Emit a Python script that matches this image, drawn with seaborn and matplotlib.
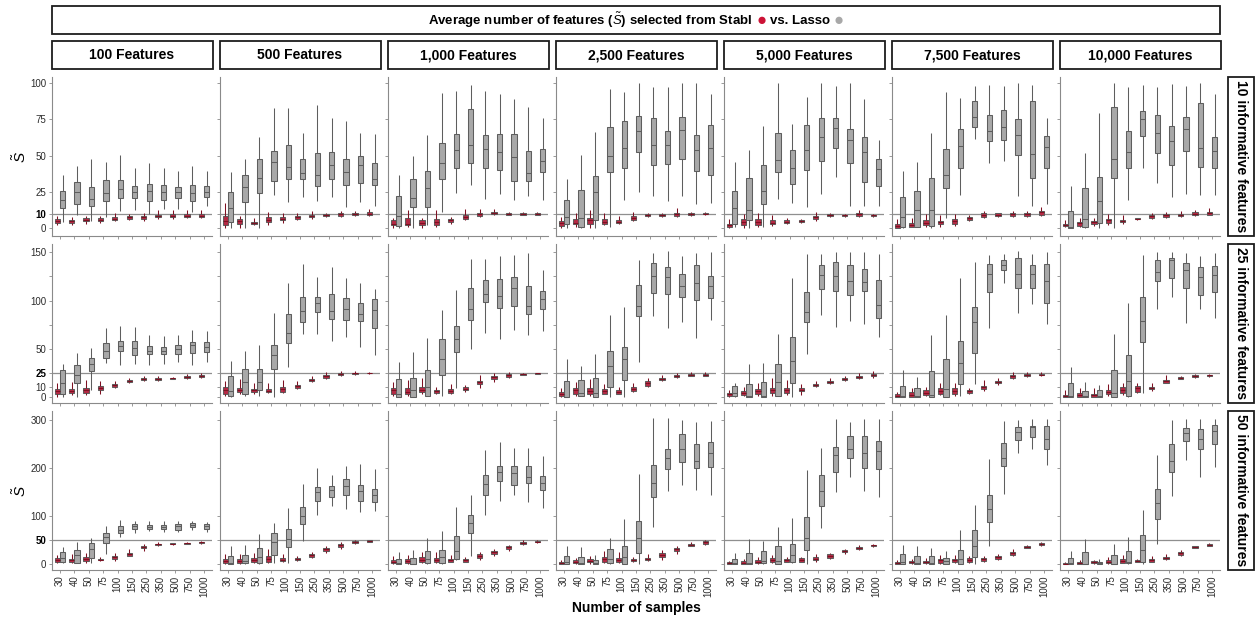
import matplotlib
matplotlib.use("Agg")
import matplotlib.pyplot as plt
from matplotlib.colors import to_rgb
from matplotlib.patches import Rectangle
import numpy as np
import pandas as pd
import seaborn as sns

# ---------------------------------------------------------------------------
# Categories
# ---------------------------------------------------------------------------
sample_sizes = ["30", "40", "50", "75", "100", "150", "250", "350", "500", "750", "1000"]
feature_counts = [100, 500, 1000, 2500, 5000, 7500, 10000]
feature_labels = ["100 Features", "500 Features", "1,000 Features", "2,500 Features",
                  "5,000 Features", "7,500 Features", "10,000 Features"]
informative_counts = [10, 25, 50]
informative_labels = ["10 informative features", "25 informative features",
                      "50 informative features"]
methods = ["Stabl", "Lasso"]

# Box summaries per sample size: [lower whisker, Q1, median, Q3, upper whisker]
# ---- 10 informative features ---------------------------------------------
stabl_10_f100 = [[2.1, 3.4, 4.8, 6.2, 8.5], [2.0, 3.9, 4.8, 5.7, 8.0], [3.0, 4.8, 5.7, 6.9, 8.7],
                 [3.9, 4.8, 5.7, 6.9, 8.7], [4.8, 5.5, 6.7, 7.8, 10.3], [5.7, 6.4, 7.6, 8.5, 9.9],
                 [4.8, 6.7, 7.8, 8.7, 10.3], [6.7, 7.6, 8.5, 9.4, 12.6], [6.7, 7.6, 8.7, 9.6, 12.6],
                 [6.9, 7.6, 8.7, 9.6, 12.6], [7.4, 7.8, 8.7, 9.6, 12.6]]
lasso_10_f100 = [[4.6, 13.8, 19.3, 25.7, 36.7], [9.2, 17.0, 25.2, 31.9, 42.9], [5.3, 15.6, 20.0, 28.4, 47.7],
                 [7.6, 18.8, 24.3, 33.0, 45.6], [11.7, 20.6, 26.8, 33.3, 50.7], [12.6, 20.6, 25.0, 29.1, 41.7],
                 [10.1, 18.8, 25.7, 30.5, 44.7], [13.5, 19.7, 25.0, 29.8, 41.5], [13.1, 20.6, 25.0, 28.7, 39.2],
                 [11.2, 18.8, 24.5, 29.6, 42.7], [15.6, 21.6, 25.0, 29.1, 39.4]]
stabl_10_f500 = [[0, 2.3, 5.0, 8.7, 17.2], [0, 2.8, 4.8, 6.2, 8.5], [2.0, 2.8, 3.7, 4.6, 6.9],
                 [2.0, 4.6, 5.7, 8.0, 11.2], [3.9, 5.5, 6.7, 7.8, 10.3], [5.7, 6.7, 7.8, 8.7, 10.3],
                 [6.7, 7.6, 8.7, 9.4, 12.2], [8.0, 8.5, 8.9, 9.6, 10.3], [7.8, 8.7, 9.6, 10.3, 12.2],
                 [8.2, 8.9, 9.9, 10.6, 12.0], [8.5, 9.2, 10.1, 11.0, 13.3]]
lasso_10_f500 = [[0, 4.1, 13.8, 24.8, 38.5], [0, 17.9, 28.2, 36.7, 47.5], [0.5, 24.5, 34.9, 47.7, 63.0],
                 [22.7, 32.8, 45.4, 53.2, 83.0], [17.9, 33.7, 42.0, 57.3, 83.0], [21.8, 33.7, 37.8, 47.5, 65.8],
                 [18.8, 29.4, 36.9, 51.6, 84.9], [21.8, 33.7, 43.6, 52.5, 75.9], [14.9, 29.6, 38.8, 47.7, 73.9],
                 [17.9, 31.0, 43.6, 49.8, 65.8], [15.6, 29.6, 33.7, 44.7, 64.9]]
stabl_10_f1000 = [[0, 2.3, 3.2, 6.0, 6.9], [1.1, 2.3, 3.2, 7.1, 12.6], [0, 2.3, 3.7, 5.5, 6.9],
                  [1.1, 2.5, 4.6, 6.4, 12.6], [3.0, 4.4, 5.5, 6.4, 8.0], [5.7, 6.4, 8.0, 9.4, 13.5],
                  [8.0, 8.5, 9.9, 10.6, 13.5], [8.9, 9.6, 10.8, 11.2, 13.3], [8.9, 9.4, 9.9, 10.3, 11.5],
                  [8.9, 9.4, 9.9, 10.3, 11.2], [8.9, 9.4, 10.1, 10.8, 11.5]]
lasso_10_f1000 = [[0, 1.4, 8.3, 22.5, 36.7], [0, 14.4, 20.9, 33.7, 49.8], [2.3, 14.4, 27.8, 39.7, 64.0],
                  [11.5, 33.7, 44.7, 58.7, 93.0], [24.5, 41.5, 53.9, 65.1, 94.3], [29.8, 44.7, 57.1, 82.1, 98.4],
                  [20.0, 41.5, 54.6, 64.0, 94.3], [23.6, 39.9, 52.5, 65.1, 92.4], [19.5, 32.8, 48.9, 65.1, 89.2],
                  [22.5, 32.8, 38.3, 53.2, 83.3], [19.5, 39.0, 46.1, 54.4, 75.9]]
stabl_10_f2500 = [[0, 1.6, 3.4, 5.0, 8.0], [1.1, 2.8, 3.7, 6.7, 10.3], [0, 2.8, 5.5, 7.3, 12.6],
                  [2.1, 3.0, 4.6, 6.2, 10.3], [3.0, 3.7, 4.6, 5.5, 8.5], [5.0, 5.7, 7.3, 8.5, 11.5],
                  [8.0, 8.5, 9.2, 10.1, 10.3], [8.0, 8.7, 9.4, 9.9, 10.3], [8.0, 8.7, 9.9, 10.8, 13.8],
                  [8.7, 9.4, 10.1, 10.8, 11.5], [9.2, 9.6, 10.1, 10.8, 11.2]]
lasso_10_f2500 = [[0, 2.8, 7.8, 19.5, 33.7], [0, 1.1, 7.1, 26.4, 50.5], [0, 5.5, 24.8, 35.8, 66.3],
                  [0.9, 38.8, 49.5, 69.5, 95.9], [19.7, 41.7, 55.0, 73.9, 93.8], [24.8, 52.3, 67.0, 77.1, 99.8],
                  [22.5, 43.3, 57.1, 75.7, 97.0], [18.6, 44.0, 57.1, 66.7, 97.0], [22.5, 47.5, 67.4, 76.4, 99.8],
                  [16.7, 39.7, 53.9, 64.0, 99.8], [17.7, 36.7, 55.0, 70.9, 92.2]]
stabl_10_f5000 = [[0, 0.7, 2.1, 3.2, 6.7], [0, 2.5, 4.4, 6.2, 9.9], [0.7, 2.5, 4.4, 6.2, 10.3],
                  [1.6, 2.8, 3.9, 5.5, 8.9], [3.0, 3.4, 4.4, 5.5, 7.3], [3.9, 4.4, 5.3, 5.7, 6.7],
                  [5.3, 6.7, 7.8, 8.7, 11.5], [7.8, 8.2, 8.9, 9.6, 10.3], [8.0, 8.5, 8.9, 9.4, 9.9],
                  [8.0, 8.7, 9.6, 10.3, 12.6], [8.0, 8.5, 8.9, 9.4, 10.1]]
lasso_10_f5000 = [[0.7, 2.8, 14.2, 25.5, 45.6], [0, 5.5, 12.4, 34.4, 53.7], [0.7, 16.5, 25.5, 43.3, 70.6],
                  [20.4, 38.5, 47.2, 65.6, 99.8], [17.7, 30.7, 41.5, 53.7, 71.8], [14.4, 40.4, 53.7, 70.9, 90.6],
                  [23.4, 46.1, 62.6, 75.7, 99.8], [35.6, 55.3, 69.3, 75.7, 97.7], [15.4, 45.2, 60.6, 68.6, 99.8],
                  [15.4, 32.1, 52.3, 62.6, 88.8], [15.4, 29.4, 40.6, 47.7, 60.6]]
stabl_10_f7500 = [[0, 0, 1.4, 2.8, 6.2], [0.7, 1.1, 2.3, 3.7, 7.3], [0.7, 2.1, 3.9, 5.7, 9.6],
                  [1.1, 2.8, 4.1, 5.3, 8.9], [1.6, 2.8, 4.8, 6.7, 9.9], [4.8, 5.7, 6.9, 7.8, 9.4],
                  [7.1, 7.6, 9.4, 10.8, 11.7], [8.0, 8.7, 9.4, 10.3, 10.8], [8.0, 8.7, 10.1, 10.8, 12.2],
                  [8.0, 8.7, 10.1, 10.8, 12.0], [8.7, 9.2, 11.0, 11.9, 14.9]]
lasso_10_f7500 = [[0.2, 0.7, 7.8, 21.6, 39.7], [0.7, 1.1, 12.4, 25.7, 45.6], [0.5, 1.6, 12.8, 34.4, 65.8],
                  [6.9, 27.8, 36.7, 54.6, 93.6], [22.7, 41.3, 56.7, 68.1, 89.4], [61.7, 69.5, 76.8, 87.4, 97.7],
                  [44.7, 59.9, 66.7, 78.0, 98.6], [46.6, 60.6, 69.7, 81.4, 97.7], [22.5, 50.2, 64.2, 75.2, 99.8],
                  [15.6, 34.9, 50.9, 87.8, 98.6], [16.7, 41.3, 55.7, 63.3, 75.7]]
stabl_10_f10000 = [[0.9, 1.4, 2.3, 3.0, 5.5], [1.1, 1.8, 3.4, 4.6, 7.1], [1.6, 2.8, 4.1, 5.0, 7.3],
                   [2.3, 3.4, 5.5, 6.7, 9.9], [3.2, 4.1, 5.0, 6.0, 8.9], [5.7, 6.2, 6.7, 6.9, 7.3],
                   [6.7, 7.3, 8.3, 9.2, 10.8], [7.3, 8.0, 9.2, 10.1, 11.5], [7.6, 8.3, 9.2, 10.1, 11.9],
                   [8.7, 9.2, 10.1, 11.0, 12.6], [9.0, 9.4, 10.3, 11.5, 13.8]]
lasso_10_f10000 = [[0, 0, 1.1, 12.2, 29.1], [0, 1.1, 6.7, 27.5, 52.0], [0, 3.4, 18.6, 35.6, 79.6],
                   [0, 34.4, 47.5, 83.3, 100.0], [19.5, 41.7, 52.3, 66.7, 97.0], [41.3, 63.8, 75.2, 80.5, 98.6],
                   [31.0, 52.0, 65.4, 78.2, 97.5], [21.3, 43.3, 60.3, 70.2, 99.3], [23.6, 53.4, 68.3, 76.4, 98.2],
                   [23.2, 42.0, 55.0, 86.0, 100.0], [22.9, 41.3, 53.0, 62.6, 92.7]]

# ---- 25 informative features ---------------------------------------------
stabl_25_f100 = [[0, 2.8, 5.9, 8.3, 14.2], [1.7, 3.8, 6.2, 8.6, 15.6], [1.7, 3.8, 6.9, 9.0, 17.6],
                 [3.1, 7.6, 9.3, 11.4, 16.9], [9.0, 10.7, 12.1, 13.8, 16.9], [14.9, 15.6, 16.6, 17.6, 20.0],
                 [17.0, 17.6, 18.7, 19.4, 21.8], [17.0, 18.0, 18.7, 19.4, 21.8], [18.3, 18.7, 19.4, 19.7, 21.1],
                 [19.0, 19.7, 20.7, 21.4, 23.5], [19.7, 20.4, 21.8, 22.8, 24.9]]
lasso_25_f100 = [[0, 2.8, 14.2, 27.7, 33.9], [0, 14.9, 22.5, 32.8, 46.0], [7.3, 26.6, 33.9, 40.8, 50.5],
                 [34.9, 40.8, 47.4, 55.7, 71.2], [32.8, 47.4, 52.9, 58.1, 73.3], [33.9, 43.2, 50.5, 57.7, 72.2],
                 [33.2, 44.2, 47.4, 52.5, 63.9], [34.6, 44.2, 48.0, 51.8, 62.9], [35.9, 44.9, 49.4, 53.6, 64.3],
                 [32.8, 46.0, 53.9, 56.7, 69.8], [36.6, 47.0, 52.2, 57.4, 68.8]]
stabl_25_f500 = [[0.7, 3.1, 6.9, 10.0, 16.9], [2.8, 4.8, 7.3, 9.0, 18.3], [2.8, 4.8, 6.9, 8.3, 14.2],
                 [3.8, 4.8, 6.6, 8.3, 14.5], [4.1, 5.5, 8.0, 10.7, 17.6], [8.6, 9.3, 11.4, 12.8, 16.9],
                 [15.6, 16.2, 18.0, 19.0, 21.8], [19.0, 20.0, 21.4, 22.8, 26.3], [21.8, 22.5, 23.5, 24.5, 27.0],
                 [23.2, 23.9, 24.5, 25.2, 27.0], [24.2, 24.5, 24.9, 25.2, 25.9]]
lasso_25_f500 = [[0, 0.7, 5.9, 21.8, 37.3], [0.7, 2.8, 15.2, 28.7, 48.0], [1.0, 6.9, 15.6, 28.7, 53.9],
                 [0, 28.7, 43.9, 54.3, 87.5], [31.1, 55.7, 66.0, 86.4, 118.0], [65.7, 77.4, 88.8, 103.4, 138.0],
                 [65.7, 87.8, 97.8, 103.7, 124.0], [58.4, 81.2, 88.8, 106.5, 134.5], [61.9, 80.2, 90.9, 102.3, 123.4],
                 [52.2, 78.5, 86.1, 97.1, 118.6], [43.6, 71.9, 89.9, 101.3, 112.3]]
stabl_25_f1000 = [[0.7, 2.8, 6.9, 9.0, 15.9], [1.0, 2.8, 5.5, 9.0, 17.3], [3.5, 4.8, 7.3, 10.7, 20.0],
                  [2.8, 4.1, 5.9, 7.3, 10.7], [2.8, 4.5, 6.2, 8.0, 13.8], [4.8, 7.3, 8.6, 10.0, 12.4],
                  [9.0, 13.5, 15.2, 16.9, 22.5], [15.2, 19.0, 20.4, 21.8, 25.2], [19.4, 21.1, 22.5, 23.9, 26.3],
                  [22.5, 22.8, 23.5, 24.2, 24.9], [23.9, 24.2, 24.5, 24.9, 25.2]]
lasso_25_f1000 = [[0, 0, 2.8, 18.7, 35.9], [0, 0, 6.9, 20.0, 47.0], [0.7, 0.7, 10.0, 27.7, 60.8],
                  [0.7, 22.5, 39.1, 60.5, 90.2], [9.7, 46.3, 60.5, 73.3, 111.3], [49.4, 79.5, 91.3, 112.7, 142.8],
                  [66.7, 98.2, 106.8, 121.0, 142.8], [60.5, 92.6, 104.4, 122.4, 146.6], [69.5, 94.4, 113.0, 124.4, 147.6],
                  [64.6, 86.4, 94.7, 114.8, 149.7], [68.4, 91.6, 101.3, 109.6, 131.7]]
stabl_25_f2500 = [[0, 0.7, 2.8, 5.5, 9.0], [1.4, 3.5, 6.9, 9.7, 15.2], [1.4, 3.5, 6.2, 9.0, 18.7],
                  [2.8, 3.5, 6.2, 8.3, 13.1], [2.8, 3.1, 5.5, 7.3, 10.7], [5.5, 6.2, 8.3, 10.7, 14.2],
                  [10.4, 11.4, 14.2, 16.6, 20.0], [16.9, 18.0, 19.0, 20.0, 22.8], [20.0, 20.7, 21.8, 22.8, 24.9],
                  [21.8, 22.1, 23.2, 24.2, 26.3], [21.8, 22.1, 23.2, 24.2, 25.6]]
lasso_25_f2500 = [[0, 0, 0.3, 16.2, 39.4], [0.7, 0.7, 3.8, 17.3, 32.1], [0, 0, 3.8, 19.7, 44.9],
                  [0.3, 10.0, 32.5, 48.0, 85.0], [0.3, 17.3, 39.1, 51.8, 93.7], [36.6, 83.6, 94.4, 115.8, 142.4],
                  [83.6, 107.5, 125.1, 138.6, 149.3], [71.9, 106.5, 124.1, 134.8, 151.0], [78.1, 103.4, 114.8, 127.2, 145.9],
                  [60.8, 100.2, 117.9, 136.9, 149.0], [79.8, 102.3, 114.8, 125.1, 150.0]]
stabl_25_f5000 = [[0, 0.7, 2.8, 4.1, 7.6], [0.7, 1.7, 4.5, 6.6, 10.7], [1.4, 3.1, 6.2, 8.3, 14.5],
                  [1.4, 3.8, 7.3, 9.7, 19.4], [2.1, 3.8, 7.3, 9.7, 17.3], [2.1, 6.2, 7.6, 9.0, 13.1],
                  [10.7, 11.8, 12.8, 13.8, 16.6], [13.8, 14.9, 15.9, 16.9, 19.4], [16.6, 17.3, 18.7, 19.7, 21.8],
                  [18.7, 19.4, 20.7, 21.8, 24.9], [20.0, 21.4, 22.8, 23.9, 26.6]]
lasso_25_f5000 = [[0, 0.7, 3.8, 11.4, 14.9], [0, 0, 0.7, 13.8, 33.9], [0, 0, 0.7, 15.6, 35.6],
                  [0.7, 1.4, 15.9, 33.9, 65.3], [0, 14.9, 37.0, 62.6, 123.7], [44.2, 77.4, 88.1, 109.2, 148.6],
                  [85.4, 112.3, 126.2, 136.5, 148.6], [72.2, 109.6, 125.8, 139.6, 150.0], [79.2, 106.1, 120.3, 136.5, 150.0],
                  [76.0, 109.9, 119.3, 132.7, 150.0], [62.6, 81.9, 95.1, 121.0, 148.6]]
stabl_25_f7500 = [[0, 0, 0.7, 2.8, 5.5], [0, 0, 1.7, 4.8, 9.0], [1.4, 2.1, 4.1, 6.9, 10.7],
                  [2.1, 3.5, 6.2, 9.0, 14.2], [1.4, 3.5, 6.2, 9.0, 14.5], [2.8, 4.1, 5.9, 7.3, 9.7],
                  [6.2, 8.3, 10.4, 11.8, 17.6], [12.4, 14.2, 15.9, 16.9, 19.4], [18.7, 20.0, 21.4, 22.5, 25.6],
                  [21.1, 21.8, 22.8, 23.9, 25.6], [21.8, 22.5, 23.2, 24.2, 25.6]]
lasso_25_f7500 = [[0, 0, 0.7, 11.4, 28.0], [0, 0, 0.7, 9.0, 20.7], [0, 0, 1.7, 26.6, 64.3],
                  [0, 0, 8.6, 39.1, 85.4], [1.4, 13.1, 35.3, 58.1, 123.0], [13.1, 45.3, 77.8, 93.7, 139.6],
                  [71.9, 109.2, 127.9, 137.9, 147.6], [117.9, 132.0, 136.9, 142.0, 147.9], [87.5, 112.7, 127.9, 143.8, 151.0],
                  [96.8, 112.7, 127.9, 136.9, 148.6], [75.4, 97.5, 120.3, 137.9, 150.0]]
stabl_25_f10000 = [[0, 0, 1.4, 2.4, 7.3], [0, 0, 2.1, 4.5, 9.0], [0, 0, 1.7, 3.5, 9.0],
                   [1.4, 3.1, 5.2, 7.3, 13.5], [2.4, 3.8, 7.3, 10.7, 14.9], [3.8, 5.5, 9.0, 11.4, 14.9],
                   [6.6, 7.9, 9.3, 10.7, 14.2], [14.2, 14.9, 16.2, 17.6, 22.8], [18.3, 19.0, 20.0, 20.7, 21.8],
                   [20.0, 20.7, 21.8, 22.5, 23.9], [21.1, 21.8, 22.5, 22.8, 23.9]]
lasso_25_f10000 = [[0, 0, 1.4, 14.2, 31.4], [0, 0, 0.7, 6.6, 15.9], [0, 0, 0.7, 7.3, 12.4],
                   [0, 0, 3.8, 28.0, 65.3], [0, 0.7, 16.9, 43.5, 97.1], [3.8, 57.4, 79.1, 103.3, 147.2],
                   [91.2, 120.6, 129.6, 142.0, 150.0], [104.0, 123.0, 142.0, 143.7, 150.0], [77.1, 113.3, 131.7, 138.6, 149.0],
                   [91.2, 105.4, 124.7, 134.4, 146.2], [81.5, 109.2, 126.5, 136.1, 149.6]]

# ---- 50 informative features ---------------------------------------------
stabl_50_f100 = [[1.4, 4.2, 8.3, 11.8, 18.8], [1.4, 4.2, 8.3, 11.1, 20.8], [2.8, 6.2, 11.1, 14.6, 23.6],
                 [5.6, 7.6, 9.0, 11.1, 15.3], [6.2, 10.4, 13.9, 16.7, 22.2], [16.0, 17.4, 20.8, 22.9, 30.6],
                 [27.0, 33.3, 36.1, 38.2, 41.7], [37.5, 38.9, 41.0, 42.4, 45.1], [40.3, 41.0, 42.4, 43.1, 44.4],
                 [41.7, 42.4, 43.8, 44.4, 45.8], [42.4, 43.1, 45.1, 46.5, 47.2]]
lasso_50_f100 = [[1.4, 3.5, 11.8, 24.3, 36.1], [1.4, 2.8, 18.8, 28.5, 46.5], [1.4, 13.2, 31.3, 44.4, 54.9],
                 [20.1, 44.4, 56.3, 65.3, 79.2], [55.6, 65.3, 70.8, 78.5, 91.7], [65.3, 73.6, 78.5, 82.6, 90.3],
                 [69.4, 73.6, 77.8, 80.6, 89.6], [66.7, 72.9, 77.8, 81.9, 90.3], [67.4, 71.5, 79.9, 82.6, 90.3],
                 [70.8, 76.4, 81.3, 84.7, 90.3], [67.4, 73.6, 79.9, 83.3, 88.2]]
stabl_50_f500 = [[0, 1.4, 5.6, 9.7, 20.1], [0, 1.4, 5.6, 11.1, 20.8], [1.4, 4.2, 8.3, 12.5, 22.2],
                 [1.4, 4.2, 10.4, 17.4, 30.6], [4.2, 5.6, 9.0, 12.5, 20.8], [6.9, 8.3, 10.4, 12.5, 16.7],
                 [12.5, 14.6, 18.1, 20.8, 25.0], [23.6, 27.8, 30.6, 33.3, 37.5], [31.9, 36.1, 38.9, 41.7, 46.5],
                 [41.7, 43.1, 45.1, 47.2, 50.0], [45.1, 45.8, 47.9, 49.3, 50.0]]
lasso_50_f500 = [[0, 0, 2.8, 16.7, 38.2], [0, 1.4, 5.6, 18.1, 40.3], [0, 1.4, 13.9, 32.6, 62.5],
                 [1.4, 19.4, 45.1, 63.9, 86.1], [1.4, 34.7, 52.1, 72.2, 117.4], [47.2, 84.0, 100.0, 118.0, 166.0],
                 [102.8, 131.9, 150.0, 159.7, 199.3], [121.5, 139.6, 154.2, 161.8, 185.4], [113.9, 144.4, 162.5, 176.4, 203.5],
                 [108.3, 131.3, 152.1, 164.6, 207.6], [110.4, 129.9, 144.4, 156.9, 197.2]]
stabl_50_f1000 = [[0.7, 2.1, 4.9, 8.3, 16.7], [0.7, 2.8, 6.9, 10.4, 18.8], [2.1, 4.9, 9.0, 13.9, 25.7],
                  [2.1, 4.2, 9.0, 12.5, 25.7], [3.5, 4.9, 8.3, 11.1, 18.8], [3.5, 4.9, 7.6, 10.4, 15.3],
                  [7.6, 13.2, 17.4, 20.1, 25.7], [17.4, 20.1, 24.3, 27.1, 31.3], [27.8, 31.3, 34.7, 36.8, 39.6],
                  [39.6, 41.7, 43.8, 45.8, 50.0], [43.8, 45.1, 46.5, 47.9, 49.3]]
lasso_50_f1000 = [[0, 0, 1.4, 10.4, 25.0], [0, 0, 0.7, 11.8, 29.2], [0.7, 1.4, 9.7, 27.8, 53.5],
                  [0.7, 1.4, 14.6, 29.2, 68.8], [8.3, 9.7, 27.1, 57.6, 119.4], [17.4, 65.3, 86.1, 101.4, 143.8],
                  [102.1, 144.4, 167.4, 184.7, 237.5], [131.9, 172.2, 191.7, 204.9, 253.5], [143.8, 164.6, 188.9, 203.5, 241.7],
                  [128.5, 168.8, 181.3, 203.5, 241.7], [117.4, 153.5, 168.1, 182.6, 225.0]]
stabl_50_f2500 = [[0, 0, 2.1, 3.5, 9.0], [0.7, 2.1, 4.9, 7.6, 13.2], [0.7, 3.5, 6.9, 10.4, 17.4],
                  [2.1, 4.9, 9.7, 14.6, 27.8], [2.1, 3.5, 9.0, 12.5, 25.7], [4.2, 5.6, 7.6, 10.4, 15.3],
                  [6.2, 8.3, 11.1, 13.2, 20.1], [8.3, 15.3, 18.8, 22.9, 29.2], [21.5, 27.1, 30.6, 34.0, 38.2],
                  [36.8, 38.2, 40.3, 42.4, 45.1], [39.6, 42.4, 45.1, 47.2, 50.0]]
lasso_50_f2500 = [[0, 0, 3.5, 16.7, 37.5], [0, 0, 1.4, 13.9, 35.4], [0, 0, 2.1, 9.0, 18.8],
                  [0.7, 1.4, 10.4, 30.6, 54.9], [0, 0, 15.3, 38.2, 93.0], [0, 22.2, 54.9, 88.9, 187.5],
                  [76.4, 138.9, 168.1, 205.6, 303.5], [152.1, 197.2, 221.5, 240.3, 303.5], [163.9, 213.2, 238.9, 270.1, 300.0],
                  [153.5, 199.3, 214.6, 249.3, 295.0], [143.8, 202.8, 230.6, 254.9, 297.9]]
stabl_50_f5000 = [[0, 0, 2.1, 3.5, 6.2], [0, 0, 2.8, 6.9, 10.4], [0, 1.4, 4.9, 8.3, 13.9],
                  [2.8, 4.9, 8.3, 12.5, 18.8], [3.5, 4.9, 7.6, 10.4, 15.3], [3.5, 4.9, 8.3, 12.5, 15.3],
                  [4.9, 7.6, 11.1, 14.6, 20.8], [10.4, 13.2, 16.7, 20.1, 22.9], [21.5, 24.3, 26.4, 28.5, 31.3],
                  [29.9, 31.9, 34.0, 36.1, 40.3], [36.1, 36.8, 38.9, 40.3, 41.7]]
lasso_50_f5000 = [[0, 0, 1.4, 10.4, 23.6], [0, 0, 1.4, 22.2, 52.1], [0, 1.4, 6.2, 27.1, 48.6],
                  [0, 0, 6.2, 38.2, 77.1], [2.1, 3.5, 18.8, 41.0, 95.1], [0, 28.5, 54.9, 97.9, 195.1],
                  [74.3, 121.5, 152.8, 184.7, 241.0], [149.3, 192.4, 226.4, 243.0, 302.0], [181.3, 220.1, 239.6, 266.7, 295.0],
                  [152.1, 199.3, 230.6, 266.7, 302.0], [140.3, 197.9, 234.7, 256.3, 302.0]]
stabl_50_f7500 = [[0, 0, 1.4, 3.5, 7.6], [0.7, 2.1, 4.2, 6.2, 9.7], [0.7, 1.4, 4.9, 6.9, 11.8],
                  [0.7, 2.8, 7.6, 11.1, 18.8], [2.1, 3.5, 7.6, 10.4, 18.8], [1.4, 3.5, 9.0, 13.2, 17.4],
                  [4.9, 6.9, 9.7, 11.8, 17.4], [7.6, 10.4, 13.9, 16.7, 20.8], [16.0, 18.8, 22.9, 25.7, 31.3],
                  [32.6, 34.0, 35.4, 36.8, 39.6], [38.2, 39.6, 41.7, 43.1, 45.1]]
lasso_50_f7500 = [[0.7, 0.7, 4.2, 20.8, 39.6], [0, 0, 1.4, 16.0, 37.5], [0, 0, 1.4, 16.0, 32.6],
                  [0, 0, 6.2, 12.5, 27.1], [0, 0, 10.4, 28.5, 70.1], [0, 15.3, 37.5, 70.1, 122.9],
                  [36.8, 86.8, 113.9, 143.8, 218.8], [145.8, 204.9, 220.1, 251.4, 297.9], [230.6, 259.0, 275.0, 285.4, 300.0],
                  [240.3, 265.3, 284.7, 286.8, 302.0], [206.3, 238.9, 259.7, 286.8, 302.0]]
stabl_50_f10000 = [[0, 0, 0.7, 2.1, 4.9], [0, 0, 2.1, 4.2, 7.6], [0.7, 1.4, 3.5, 5.6, 7.6],
                   [0.7, 2.1, 4.9, 8.3, 15.3], [1.4, 2.8, 6.2, 9.7, 18.8], [4.2, 4.9, 6.9, 8.3, 10.4],
                   [3.5, 4.9, 8.3, 11.1, 17.4], [7.6, 9.7, 12.5, 14.6, 20.1], [17.4, 19.4, 22.9, 25.7, 28.5],
                   [32.6, 34.0, 35.4, 36.8, 38.2], [36.8, 38.2, 39.6, 41.0, 43.1]]
lasso_50_f10000 = [[0, 0, 1.4, 11.8, 27.1], [0, 0, 0, 25.0, 52.1], [0, 0, 1.4, 4.9, 10.4],
                   [0, 0, 0.7, 18.1, 41.0], [0.7, 1.4, 3.5, 27.1, 55.6], [0, 3.5, 28.5, 60.4, 111.8],
                   [41.7, 93.1, 127.1, 156.3, 227.1], [142.4, 192.4, 214.6, 249.3, 300.0], [217.4, 256.3, 273.6, 284.0, 302.0],
                   [181.9, 238.9, 260.4, 281.3, 302.0], [202.1, 249.3, 277.1, 289.6, 302.0]]

# ---------------------------------------------------------------------------
# Long-form table for seaborn
# ---------------------------------------------------------------------------
summaries = {name: value for name, value in globals().items()
             if name.startswith(("stabl_", "lasso_"))}
records = []
for inf in informative_counts:
    for feat in feature_counts:
        for method in methods:
            boxes = summaries[f"{method.lower()}_{inf}_f{feat}"]
            for n, five in zip(sample_sizes, boxes):
                for v in five:
                    records.append((inf, feat, n, method, v))
df = pd.DataFrame(records, columns=["informative", "features", "samples", "method", "value"])

# ---------------------------------------------------------------------------
# Styling
# ---------------------------------------------------------------------------
sns.set_style("white")
plt.rcParams["font.family"] = ["Liberation Sans", "DejaVu Sans"]
plt.rcParams["mathtext.fontset"] = "custom"
plt.rcParams["mathtext.rm"] = "Liberation Sans"
plt.rcParams["mathtext.it"] = "Liberation Sans:italic"
plt.rcParams["mathtext.bf"] = "Liberation Sans:bold"

STABL_RED = "#cc1236"
STABL_EDGE = "#7e1022"
LASSO_GREY = "#a8a8a8"
EDGE = "#5e5e5e"
AXIS_GREY = "#8a8a8a"
TEXT_DARK = "#2b2b2b"

ylims = {10: (-5.3, 104.1), 25: (-6.2, 158.6), 50: (-12.5, 318.7)}
yticks = {10: [0, 10, 25, 50, 75, 100],
          25: [0, 10, 25, 50, 75, 100, 125, 150],
          50: [0, 50, 100, 200, 300]}
unlabelled_ticks = {10: set(), 25: {75, 125}, 50: set()}

W_PX, H_PX = 1257, 622
fig = plt.figure(figsize=(W_PX / 100, H_PX / 100), dpi=100)
fig.patch.set_facecolor("white")

PANEL_LEFT0, PANEL_STEP, PANEL_W = 52, 168, 160
ROW_TOPS, PANEL_H = [77, 244, 411], 159


def fig_rect(left, top, width, height):
    return [left / W_PX, 1 - (top + height) / H_PX, width / W_PX, height / H_PX]


def framed_box(left, top, width, height):
    fig.add_artist(Rectangle((left / W_PX, 1 - (top + height) / H_PX), width / W_PX, height / H_PX,
                             transform=fig.transFigure, fill=False, edgecolor="#1c1c1c",
                             linewidth=1.3))


palette = {"Stabl": STABL_RED, "Lasso": LASSO_GREY}
red_rgb = np.array(to_rgb(STABL_RED))

for i, inf in enumerate(informative_counts):
    for j, feat in enumerate(feature_counts):
        left = PANEL_LEFT0 + PANEL_STEP * j
        ax = fig.add_axes(fig_rect(left, ROW_TOPS[i], PANEL_W, PANEL_H))
        sub = df[(df["informative"] == inf) & (df["features"] == feat)]
        ref_line = ax.axhline(inf, color="#8f8f8f", linewidth=0.9, zorder=0.5)
        sns.boxplot(data=sub, x="samples", y="value", hue="method",
                    order=sample_sizes, hue_order=methods, palette=palette,
                    whis=(0, 100), width=0.76, gap=0.05, dodge=True,
                    linewidth=0.75, linecolor=EDGE, showfliers=False,
                    capwidths=0, legend=False, ax=ax)

        # Stabl boxes get a dark red outline, whiskers and median
        for patch in ax.patches:
            if np.allclose(np.array(patch.get_facecolor()[:3]), red_rgb, atol=0.02):
                patch.set_edgecolor(STABL_EDGE)
        for line in ax.lines:
            if line is ref_line:
                continue
            xd = np.asarray(line.get_xdata(), dtype=float)
            if xd.size and np.mean(xd) < np.round(np.mean(xd)) - 0.05:
                line.set_color(STABL_EDGE)

        ax.set_xlim(-0.55, 10.55)
        ax.set_ylim(*ylims[inf])
        ax.set_xlabel("")
        ax.set_ylabel("")
        ax.grid(False)
        ax.set_facecolor("white")
        for side in ("top", "right"):
            ax.spines[side].set_visible(False)
        for side in ("left", "bottom"):
            ax.spines[side].set_color(AXIS_GREY)
            ax.spines[side].set_linewidth(0.8)
        ax.tick_params(axis="both", which="both", direction="out", length=2.5, width=0.6,
                       color=AXIS_GREY, labelsize=7, labelcolor=TEXT_DARK, pad=1.5,
                       left=True, bottom=True)

        ax.set_xticks(range(len(sample_sizes)))
        if i == len(informative_counts) - 1:
            ax.set_xticklabels(sample_sizes, rotation=90)
        else:
            ax.set_xticklabels([])

        ax.set_yticks(yticks[inf])
        if j == 0:
            labels = ["" if t in unlabelled_ticks[inf] else str(t) for t in yticks[inf]]
            ax.set_yticklabels(labels)
            for lab in ax.get_yticklabels():
                if lab.get_text() == str(inf):
                    lab.set_fontweight("bold")
                    lab.set_color("black")
        else:
            ax.set_yticklabels([])

    # Row strip on the right
    framed_box(1228, ROW_TOPS[i], 26, PANEL_H)
    fig.text(1241 / W_PX, 1 - (ROW_TOPS[i] + PANEL_H / 2) / H_PX, informative_labels[i],
             rotation=270, ha="center", va="center", fontsize=10, fontweight="bold",
             color="black")

# Column strips
for j, lab in enumerate(feature_labels):
    left = PANEL_LEFT0 + PANEL_STEP * j
    framed_box(left, 41, PANEL_W + 1, 28)
    fig.text((left + PANEL_W / 2) / W_PX, 1 - 55 / H_PX, lab, ha="center", va="center",
             fontsize=10, fontweight="bold", color="black")

# Overall header with coloured method markers
framed_box(52, 6, 1168, 28)
header_pieces = [
    ("Average number of features ($\\tilde{S}$) selected from Stabl", "black", 9.5, 4),
    ("\u25CF", STABL_RED, 12, 3),
    ("vs. Lasso", "black", 9.5, 4),
    ("\u25CF", LASSO_GREY, 12, 0),
]
renderer = fig.canvas.get_renderer()
header_texts, widths = [], []
for s, c, fs, gap in header_pieces:
    t = fig.text(0, 1 - 24.5 / H_PX, s, color=c, fontsize=fs, fontweight="bold",
                 ha="left", va="baseline")
    header_texts.append(t)
    widths.append(t.get_window_extent(renderer).width + gap)
x = 636 - sum(widths) / 2
for t, w in zip(header_texts, widths):
    t.set_x(x / W_PX)
    x += w

# Y-axis symbol and x-axis title
for row_idx in (0, 2):
    fig.text(20 / W_PX, 1 - (ROW_TOPS[row_idx] + 80) / H_PX, "$\\tilde{S}$", rotation=90,
             ha="center", va="center", fontsize=11, color="black")
fig.text(636 / W_PX, 1 - 608 / H_PX, "Number of samples", ha="center", va="center",
         fontsize=10, fontweight="bold", color="black")

fig.savefig("out.png", dpi=100, facecolor="white")
